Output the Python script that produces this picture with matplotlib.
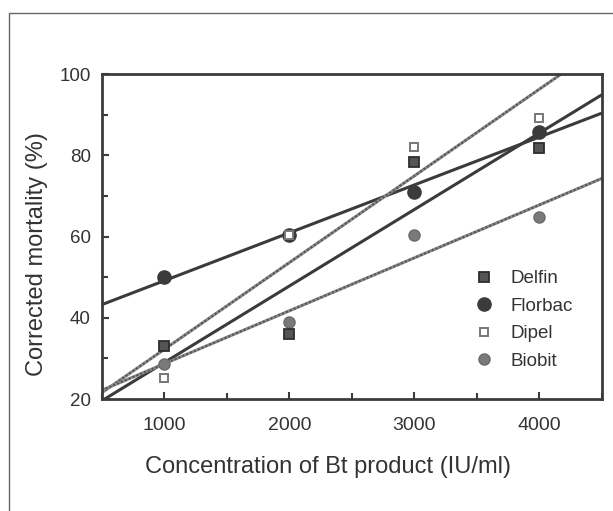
import matplotlib
matplotlib.use("Agg")
import matplotlib.pyplot as plt
from matplotlib.lines import Line2D
from matplotlib.ticker import MultipleLocator
import numpy as np

plt.rcParams['font.family'] = ['Liberation Sans', 'DejaVu Sans']

# Bt concentration (IU/ml) and corrected mortality (%) per product
conc = np.array([1000, 2000, 3000, 4000])
delfin = np.array([33.0, 36.0, 78.3, 81.7])
florbac = np.array([50.0, 60.5, 71.0, 85.8])
dipel = np.array([25.3, 60.5, 82.0, 89.3])
biobit = np.array([28.6, 39.0, 60.5, 64.9])

dark = '#3b3b3b'
grey = '#7a7a7a'
txt = '#333333'

fig = plt.figure(figsize=(6.13, 5.11), dpi=100)
ax = fig.add_axes([0.166, 0.219, 0.816, 0.636])

xfit = np.array([500, 4500])

def fitline(y, textured=False):
    k, b = np.polyfit(conc, y, 1)
    yy = k * xfit + b
    if textured:
        ax.plot(xfit, yy, color='#8a8a8a', lw=2.2, solid_capstyle='butt', zorder=2)
        ax.plot(xfit, yy, color='#555555', lw=1.5, ls=(0, (1, 1)), zorder=2)
    else:
        ax.plot(xfit, yy, color=dark, lw=2.2, solid_capstyle='butt', zorder=2)

fitline(florbac)
fitline(delfin)
fitline(dipel, textured=True)
fitline(biobit, textured=True)

# markers
ax.plot(conc, biobit, 'o', ms=8, mfc=grey, mec='#6a6a6a', mew=1, zorder=3, label='Biobit')
ax.plot(conc, florbac, 'o', ms=9.5, mfc=dark, mec=dark, zorder=3, label='Florbac')
ax.plot(conc, delfin, 's', ms=6.5, mfc='#555555', mec='#2e2e2e', mew=1.3, zorder=4, label='Delfin')
ax.plot(conc, dipel, 's', ms=6, mfc='white', mec='#777777', mew=1.4, zorder=4, label='Dipel')

ax.set_xlim(500, 4500)
ax.set_ylim(20, 100)
ax.xaxis.set_major_locator(MultipleLocator(1000))
ax.xaxis.set_minor_locator(MultipleLocator(500))
ax.yaxis.set_major_locator(MultipleLocator(20))
ax.yaxis.set_minor_locator(MultipleLocator(10))
ax.tick_params(which='both', direction='in', color=dark, width=1.5, top=False, right=False)
ax.tick_params(which='major', length=5)
ax.tick_params(which='minor', length=4)
ax.tick_params(axis='x', labelsize=14, labelcolor=txt, pad=13)
ax.tick_params(axis='y', labelsize=13.5, labelcolor=txt, pad=8)
ax.set_xticks([1000, 2000, 3000, 4000])
for s in ax.spines.values():
    s.set_color(dark)
    s.set_linewidth(2)

fig.text(0.535, 0.086, 'Concentration of Bt product (IU/ml)', fontsize=17, color=txt,
         ha='center', va='center')
fig.text(0.060, 0.503, 'Corrected mortality (%)', fontsize=17, color=txt,
         ha='center', va='center', rotation=90)

h, l = ax.get_legend_handles_labels()
order = ['Delfin', 'Florbac', 'Dipel', 'Biobit']
hh = [h[l.index(n)] for n in order]
leg = ax.legend(hh, order, loc='upper left', bbox_to_anchor=(0.735, 0.42),
                frameon=False, fontsize=13.5, handlelength=0.8, handletextpad=1.0,
                labelspacing=0.55, borderaxespad=0, labelcolor=txt)

# page frame
fig.add_artist(Line2D([10 / 613, 1.0], [1 - 13 / 511] * 2, color='#666666', lw=1))
fig.add_artist(Line2D([9 / 613] * 2, [0, 1 - 13 / 511], color='#666666', lw=1))

fig.savefig('out.png', dpi=100, facecolor='white')
